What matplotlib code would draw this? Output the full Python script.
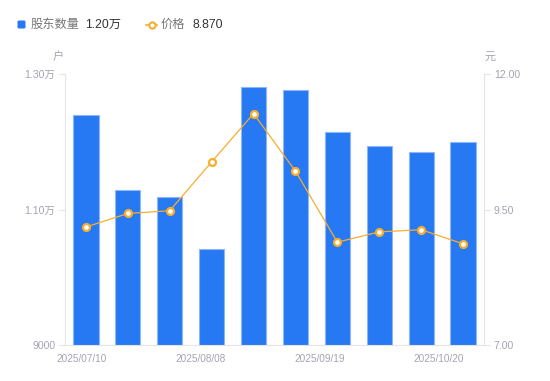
import matplotlib
matplotlib.use("Agg")
import matplotlib.pyplot as plt
import numpy as np
from matplotlib.lines import Line2D
from matplotlib.patches import FancyBboxPatch

dates = ["2025/07/10", "2025/07/20", "2025/07/31", "2025/08/08", "2025/08/20",
         "2025/08/31", "2025/09/19", "2025/09/30", "2025/10/10", "2025/10/20"]
holders = [12395, 11285, 11186, 10423, 12808, 12760, 12145, 11934, 11845, 12000]
prices = [9.18, 9.43, 9.48, 10.38, 11.27, 10.21, 8.90, 9.09, 9.13, 8.87]
shown_labels = ["2025/07/10", "2025/08/08", "2025/09/19", "2025/10/20"]
left_ticks = [9000, 11000, 13000]
left_tick_labels = ["9000", "1.10万", "1.30万"]
right_ticks = [7.00, 9.50, 12.00]

FONT = ["Liberation Sans", "Noto Sans CJK SC", "DejaVu Sans"]
plt.rcParams["font.family"] = FONT

BLUE = "#2778F3"
ORANGE = "#F7AE2E"
GRID = "#E3E3E8"
TXT = "#A4A4B4"

fig = plt.figure(figsize=(5.5, 3.81), dpi=100)
ax = fig.add_axes([65/550, 1-345.3/381, (484-65)/550, (345.3-74)/381])
ax2 = ax.twinx()

x = np.arange(len(dates))
ax.bar(x, holders, width=0.6, color=BLUE, edgecolor="#8DB7F7", linewidth=0.8, zorder=2)
ax.set_xlim(-0.5, len(dates)-0.5)
ax.set_ylim(9000, 13000)
ax.set_yticks(left_ticks)
ax.set_yticklabels(left_tick_labels)

ax2.plot(x, prices, color=ORANGE, linewidth=0.9, marker="o", markersize=5,
         markerfacecolor="white", markeredgecolor=ORANGE, markeredgewidth=1.6, zorder=3)
ax2.set_ylim(7, 12)
ax2.set_yticks(right_ticks)
ax2.set_yticklabels([f"{v:.2f}" for v in right_ticks])

pos = np.linspace(-0.1, 8.43, len(shown_labels))
ax.set_xticks(pos)
ax.set_xticklabels(shown_labels)

for a in (ax, ax2):
    for s in a.spines.values():
        s.set_visible(False)
    a.tick_params(colors=TXT, labelsize=7.6, length=4, width=0.8, color=GRID, pad=2)
ax.spines["left"].set_visible(True)
ax.spines["left"].set_color(GRID)
ax.spines["bottom"].set_visible(True)
ax.spines["bottom"].set_color(GRID)
ax2.spines["right"].set_visible(True)
ax2.spines["right"].set_color(GRID)
ax.tick_params(axis="x", length=0, pad=6, labelsize=7.2)
ax.tick_params(axis="y", pad=3)
ax2.tick_params(axis="y", pad=3)

fig.text(58.5/550, 1-57/381, "户", ha="center", va="center", fontsize=8, color=TXT)
fig.text(490/550, 1-57/381, "元", ha="center", va="center", fontsize=8, color=TXT)

# legend
fig.patches.append(FancyBboxPatch((17.5/550, 1-28.5/381), 8/550, 8/381,
                                  boxstyle="round,pad=0,rounding_size=0.003",
                                  transform=fig.transFigure, facecolor=BLUE, edgecolor="none"))
fig.text(31/550, 1-25/381, "股东数量", ha="left", va="center", fontsize=8.8, color="#777777")
fig.text(85/550, 1-25/381, f"{holders[-1]/10000:.2f}万", ha="left", va="center", fontsize=8.8, color="#333333")
fig.lines.append(Line2D([146/550, 151.5/550, 157/550], [1-25/381]*3, transform=fig.transFigure,
                        color=ORANGE, linewidth=1.2, marker="o", markersize=4.5,
                        markevery=[1], markerfacecolor="white", markeredgecolor=ORANGE, markeredgewidth=1.5))
fig.text(161/550, 1-25/381, "价格", ha="left", va="center", fontsize=8.8, color="#777777")
fig.text(192/550, 1-25/381, f"{prices[-1]:.3f}", ha="left", va="center", fontsize=8.8, color="#333333")

fig.savefig("out.png", dpi=100)
